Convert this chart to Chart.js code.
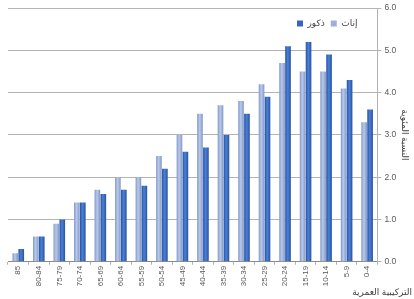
<!DOCTYPE html>
<html><head><meta charset="utf-8">
<script src="https://cdn.jsdelivr.net/npm/chart.js@4/dist/chart.umd.min.js"></script>
<style>html,body{margin:0;padding:0;background:#fff}#wrap{width:414px;height:299px}</style>
</head><body><div id="wrap"><canvas id="c" width="414" height="299"></canvas></div>
<script>
const categories = ['85','80-84','75-79','70-74','65-69','60-64','55-59','50-54','45-49','40-44','35-39','30-34','25-29','20-24','15-19','10-14','5-9','0-4'];
const females = [0.2,0.6,0.9,1.4,1.7,2.0,2.0,2.5,3.0,3.5,3.7,3.8,4.2,4.7,4.5,4.5,4.1,3.3];
const males   = [0.3,0.6,1.0,1.4,1.6,1.7,1.8,2.2,2.6,2.7,3.0,3.5,3.9,5.1,5.2,4.9,4.3,3.6];
const seriesNames = ['إناث','ذكور'];
const yTicks = [0,1,2,3,4,5,6];
const yTitle = 'النسبة المئوية';
const xTitle = 'التركيبية العمرية';

const CAT_PCT = 0.58, BAR_PCT = 0.95;
const solid = ['#9bb0dc','#3466c0'];
const edges = ['#8198c8','#28529f'];
const mids  = ['#b9c9ea','#4a80d8'];

function barGradient(c){
  const chart = c.chart, xs = chart.scales && chart.scales.x;
  const di = c.datasetIndex;
  if (!xs || !chart.chartArea || c.type !== 'data' || !isFinite(xs.width) || xs.width <= 0) return solid[di];
  const catW = xs.width / categories.length;
  const group = catW * CAT_PCT, bw = group / 2 * BAR_PCT;
  const cx = xs.getPixelForValue(c.dataIndex) + (di === 0 ? -group/4 : group/4);
  const g = chart.ctx.createLinearGradient(cx - bw/2, 0, cx + bw/2, 0);
  g.addColorStop(0, edges[di]); g.addColorStop(0.45, mids[di]); g.addColorStop(1, edges[di]);
  return g;
}

const legendFloat = {
  id: 'legendFloat',
  afterInit(chart){
    const lg = chart.legend; const f = lg.fit;
    lg.fit = function(){ f.call(this); this._realH = this.height; this.height = 0; };
  },
  afterLayout(chart){
    const lg = chart.legend; const pad = lg.options.labels.padding;
    const rowW = (lg.lineWidths && lg.lineWidths[0]) || 60;
    lg.left = 297 - pad; lg.right = lg.left + rowW + 2*pad; lg.width = lg.right - lg.left;
    lg.top = 19 - pad; lg.height = lg._realH || 20; lg.bottom = lg.top + lg.height;
  }
};

Chart.defaults.font.family = '"Liberation Sans", "DejaVu Sans", sans-serif';
Chart.defaults.color = '#595959';

new Chart(document.getElementById('c'), {
  type: 'bar',
  data: {
    labels: categories,
    datasets: [
      { label: seriesNames[0], data: females, backgroundColor: barGradient, borderWidth: 0 },
      { label: seriesNames[1], data: males, backgroundColor: barGradient, borderWidth: 0 }
    ]
  },
  options: {
    responsive: false,
    animation: false,
    devicePixelRatio: 1,
    categoryPercentage: CAT_PCT,
    barPercentage: BAR_PCT,
    layout: { padding: { left: 8, top: 1, right: 2, bottom: 0 } },
    plugins: {
      legend: {
        position: 'top', align: 'start', reverse: true,
        labels: {
          boxWidth: 6, boxHeight: 6, padding: 6, font: { size: 9 }, color: '#404040',
          generateLabels(chart){
            const items = Chart.defaults.plugins.legend.labels.generateLabels(chart);
            items.forEach(it => { it.fillStyle = solid[it.datasetIndex]; it.strokeStyle = solid[it.datasetIndex]; it.lineWidth = 0; });
            return items;
          }
        }
      },
      title: {
        display: true, text: xTitle, position: 'bottom', align: 'end',
        font: { size: 9, weight: 'normal' }, color: '#404040', padding: { top: 0, bottom: 1 }
      },
      tooltip: { enabled: false }
    },
    scales: {
      x: {
        grid: { display: true, drawOnChartArea: false, drawTicks: true, tickLength: 3, color: '#b0b0b0' },
        border: { color: '#8c8c8c' },
        ticks: { minRotation: 90, maxRotation: 90, autoSkip: false, font: { size: 8 }, padding: 1 }
      },
      y: {
        position: 'right', min: 0, max: 6,
        afterBuildTicks(scale){ scale.ticks = yTicks.map(v => ({ value: v })); },
        grid: { color: '#b4b4b4', tickLength: 4 },
        border: { color: '#b4b4b4' },
        ticks: { font: { size: 8.5 }, padding: 3, callback: v => Number(v).toFixed(1) },
        title: { display: true, text: yTitle, font: { size: 9 }, color: '#404040', padding: { top: 2, bottom: 0 } }
      }
    }
  },
  plugins: [legendFloat]
});
</script>
</body></html>
